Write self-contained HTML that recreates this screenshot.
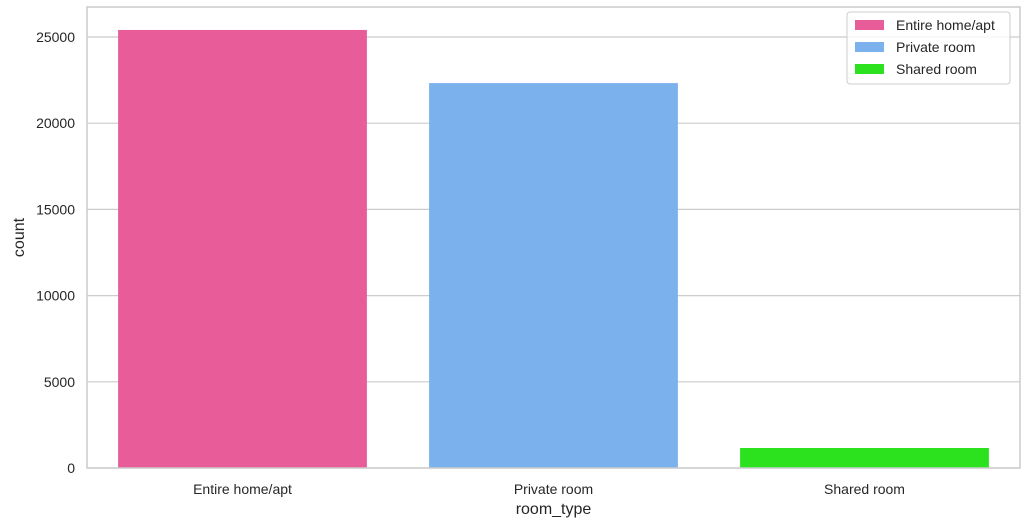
<!DOCTYPE html>
<html><head><meta charset="utf-8">
<style>
body{margin:0;background:#fff;font-family:"Liberation Sans","DejaVu Sans",sans-serif;}
svg text{font-family:"Liberation Sans","DejaVu Sans",sans-serif;fill:#262626;}
</style></head>
<body>
<svg id="chart" width="1032" height="527" xmlns="http://www.w3.org/2000/svg"></svg>
<script>
const categories = ["Entire home/apt","Private room","Shared room"];
const counts = [25409, 22326, 1160];
const colors = ["#e85c9a","#7bb2ee","#2ce21f"];
const yTicks = [0,5000,10000,15000,20000,25000];

const svg = document.getElementById('chart');
const NS = 'http://www.w3.org/2000/svg';
const L=87, R=1020, T=7, B=468;
const yMax = 26740;
const y = v => B - v/yMax*(B-T);
const band = (R-L)/categories.length;
const x = i => L + band*i + band*0.1;
const bw = band*0.8;
function mk(tag, attrs){const e=document.createElementNS(NS,tag);for(const k in attrs)e.setAttribute(k,attrs[k]);svg.appendChild(e);return e;}

const bg = mk('rect',{x:L,y:T,width:R-L,height:B-T,fill:'#fff'});



yTicks.forEach(t=>{
  const g = mk('line',{x1:L,x2:R,y1:y(t),y2:y(t),stroke:'#cccccc','stroke-width':1.2});
  
  
  const tx = mk('text',{x:L-12,y:y(t)+5,'text-anchor':'end','font-size':14});
  tx.textContent = t;
  
  
});

categories.forEach((c,i)=>{
  const r = mk('rect',{x:x(i),y:y(counts[i]),width:bw,height:B-y(counts[i]),fill:colors[i]});
  
  
  const tx = mk('text',{x:x(i)+bw/2,y:B+26,'text-anchor':'middle','font-size':14});
  tx.textContent = c;
  
  
});

const frame = mk('rect',{x:L,y:T,width:R-L,height:B-T,fill:'none',stroke:'#cccccc','stroke-width':1.5});



const xt = mk('text',{x:(L+R)/2,y:514,'text-anchor':'middle','font-size':16});
xt.textContent='room_type';


const yt = mk('text',{x:24,y:(T+B)/2,'text-anchor':'middle','font-size':16,transform:'rotate(-90 24 '+((T+B)/2)+')'});
yt.textContent='count';



const lg = mk('rect',{x:847,y:12,width:163,height:72,rx:3,fill:'#fff','fill-opacity':0.8,stroke:'#cccccc'});


categories.forEach((c,i)=>{
  const yy = 20+i*22;
  const s = mk('rect',{x:855,y:yy,width:29,height:10,fill:colors[i]});
  
  
  const tx = mk('text',{x:896,y:yy+10,'font-size':14});
  tx.textContent=c;
  
  
});
</script>
</body></html>
